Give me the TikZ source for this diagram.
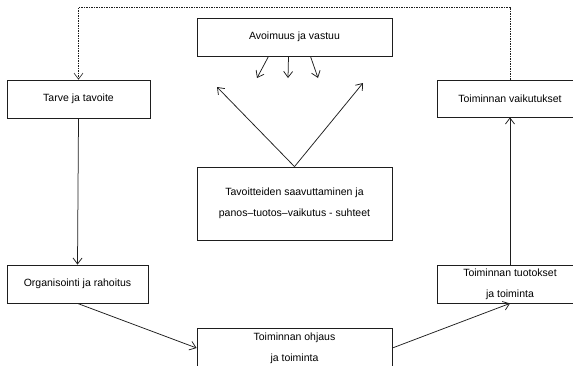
\documentclass[tikz,border=0pt]{standalone}
\usepackage{fontspec}
\setmainfont{Liberation Sans}
\usetikzlibrary{arrows.meta, positioning, calc}

\tikzset{
  box/.style={draw=mydark, line width=0.8pt, inner sep=0pt, align=center,
    font=\fontsize{10.5}{21}\selectfont},
  link/.style={draw=mydark, line width=0.75pt, -{Straight Barb[length=6pt, width=9pt]}},
}

\begin{document}
\begin{tikzpicture}[x=1pt, y=-1pt]
% Define the custom color
  \definecolor{mydark}{RGB}{30,30,30}

  \useasboundingbox (0,0) rectangle (573,365);

  \node[box, minimum width=143, minimum height=38] (tarve) at (78.5, 99) {Tarve ja tavoite};
  \node[box, minimum width=141, minimum height=38] (org) at (77.5, 284) {Organisointi ja rahoitus};
  \node[box, minimum width=195, minimum height=38] (avo) at (294.5, 37) {Avoimuus ja vastuu};
  \node[box, minimum width=195, minimum height=73] (tav) at (294.5, 203.5) {Tavoitteiden saavuttaminen ja\\panos--tuotos--vaikutus - suhteet};
  \node[box, minimum width=195, minimum height=40] (ohj) at (294.5, 348) {Toiminnan ohjaus\\ja toiminta};
  \node[box, minimum width=146, minimum height=37] (vai) at (510, 98.5) {Toiminnan vaikutukset};
  \node[box, minimum width=146, minimum height=38] (tuo) at (510, 284) {Toiminnan tuotokset\\ja toiminta};

  % feedback line
  \coordinate (fb) at (0, 7);
  \draw[link, dash pattern=on 1.5pt off 1pt, line width=0.6pt]
    (vai.north) -- (vai.north |- fb) -- (tarve.north |- fb) -- (tarve.north);

  \draw[link] (tarve.south) -- (org.north);
  \draw[link] (org.south) -- (ohj.west);
  \draw[link] (ohj.east) -- (tuo.south);
  \draw[link] (tuo.north) -- (vai.south);

  % arrows out of the middle box
  \coordinate (tl) at (217, 87);
  \coordinate (tr) at (363, 83);
  \draw[link] (tav.north) -- (tl);
  \draw[link] (tav.north) -- (tr);

  % arrows under the top box
  \coordinate (a1) at (257, 78);
  \coordinate (a2) at (288, 78);
  \coordinate (a3) at (318, 78);
  \draw[link] ($(avo.south)+(-26,0)$) -- (a1);
  \draw[link] ($(avo.south)+(-6,0)$) -- (a2);
  \draw[link] ($(avo.south)+(16,0)$) -- (a3);

\end{tikzpicture}
\end{document}
